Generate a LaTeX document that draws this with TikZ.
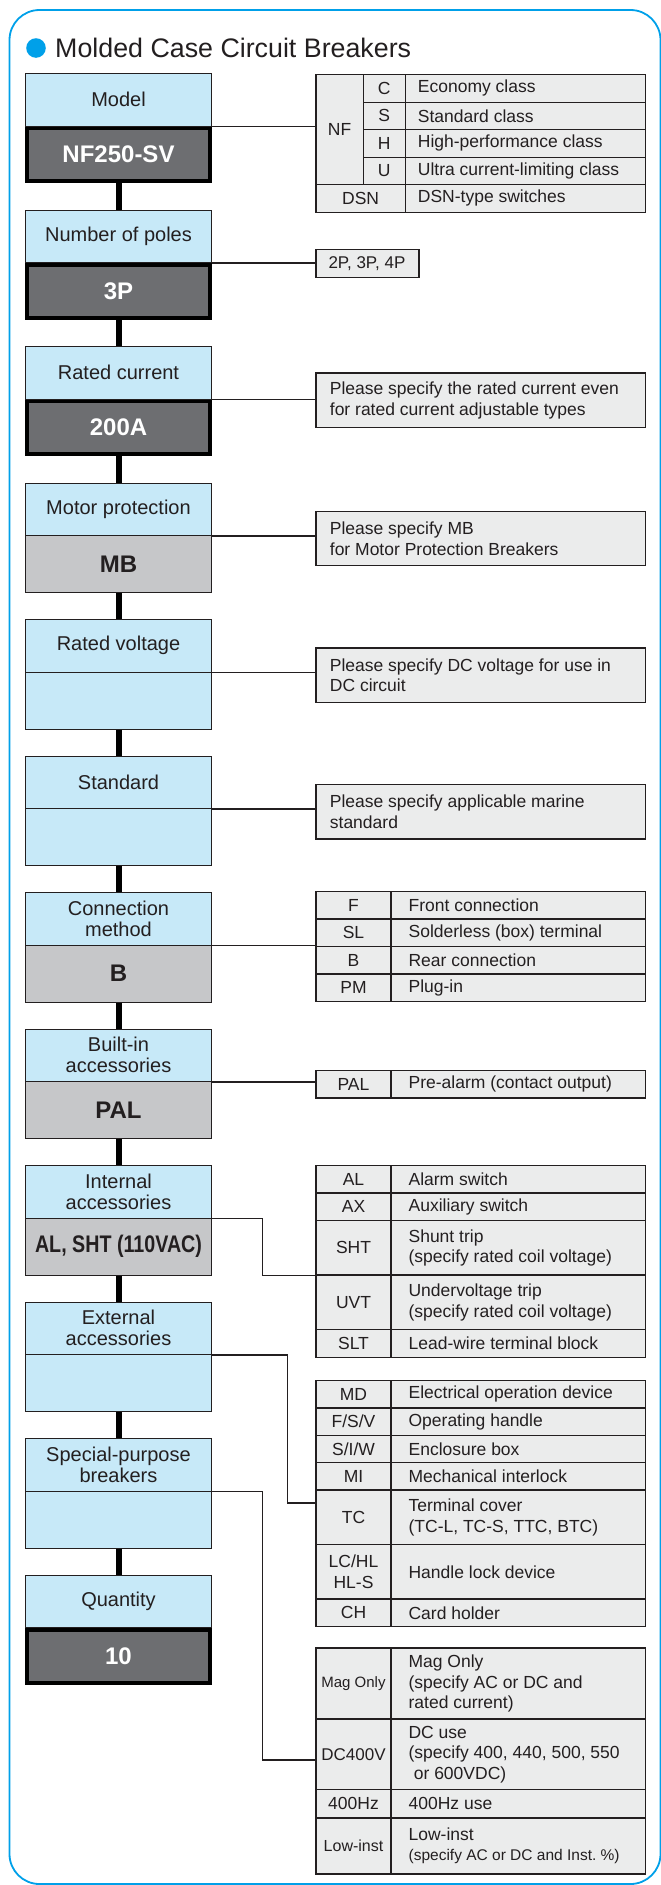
\documentclass[tikz,border=0pt]{standalone}
\usepackage{fontspec}
\usepackage{graphicx}
\setmainfont{Liberation Sans}
\definecolor{cyanc}{HTML}{00A0E9}
\definecolor{lblue}{HTML}{C7E9F8}
\definecolor{dgray}{HTML}{6D6E71}
\definecolor{mgray}{HTML}{C6C7C9}
\definecolor{tgray}{HTML}{EBECEC}
\definecolor{linec}{HTML}{231F20}
\definecolor{txt}{HTML}{231F20}
\tikzset{
 lbl/.style={draw=linec, line width=1, fill=lblue, minimum width=186.3, minimum height=52.5, inner sep=0, align=center, font=\fontsize{20}{21}\selectfont, text=txt},
 vdark/.style={draw=black, line width=4, fill=dgray, minimum width=182.3, minimum height=53, inner sep=0, font=\fontsize{24}{26}\selectfont\bfseries, text=white},
 vgray/.style={draw=linec, line width=1, fill=mgray, minimum width=186.3, minimum height=57, inner sep=0, font=\fontsize{24}{26}\selectfont\bfseries, text=txt},
 vblue/.style={draw=linec, line width=1, fill=lblue, minimum width=186.3, minimum height=57, inner sep=0},
 thickc/.style={line width=6, draw=black},
 conn/.style={line width=1.3, draw=linec},
 cellst/.style={draw=linec, line width=1.3, fill=tgray, inner sep=0, font=\fontsize{17.5}{20.5}\selectfont, text=txt},
 celltext/.style={inner sep=0, font=\fontsize{17.5}{20.5}\selectfont, text=txt, align=left, anchor=west},
}
\newcommand\ccell[7][]{%
 \pgfmathsetmacro\cw{#5-#3}\pgfmathsetmacro\ch{#6-#4}%
 \node[cellst,anchor=north west,minimum width=\cw pt,minimum height=\ch pt,align=center,#1] (#2) at (#3,#4) {#7};}
\newcommand\dcell[7][18]{%
 \pgfmathsetmacro\cw{#5-#3}\pgfmathsetmacro\ch{#6-#4}%
 \node[cellst,anchor=north west,minimum width=\cw pt,minimum height=\ch pt] (#2) at (#3,#4) {};
 \node[celltext] (#2t) at ([xshift=#1 pt]#2.west) {#7};}
\begin{document}
\begin{tikzpicture}[x=1pt,y=-1pt]
\useasboundingbox (0,0) rectangle (661,1885);
\begin{scope}
\clip (0,0) rectangle (661,1885);
\draw[cyanc, line width=1.8, rounded corners=30] (9.5,10) rectangle (660.5,1884);
\end{scope}
% title
\fill[cyanc] (36,48) circle (9.8);
\node[anchor=base west, inner sep=0, font=\fontsize{26.8}{30}\selectfont, text=txt] (title) at (55,57.5) {Molded Case Circuit Breakers};

% stages
\node[vdark] (v0) at (118.5,154.5) {NF250-SV};
\node[lbl] (l0) at (118.5,99.75) {Model};
\node[vdark] (v1) at (118.5,291) {3P};
\node[lbl] (l1) at (118.5,236.25) {Number of poles};
\node[vdark] (v2) at (118.5,427.5) {200A};
\node[lbl] (l2) at (118.5,372.75) {Rated current};
\node[vgray] (v3) at (118.5,564) {MB};
\node[lbl] (l3) at (118.5,509.25) {Motor protection};
\node[vblue] (v4) at (118.5,700.5) {};
\node[lbl] (l4) at (118.5,645.75) {Rated voltage};
\node[vblue] (v5) at (118.5,837) {};
\node[lbl] (l5) at (118.5,782.25) {Standard};
\node[vgray] (v6) at (118.5,973.5) {B};
\node[lbl] (l6) at (118.5,918.75) {Connection\\method};
\node[vgray] (v7) at (118.5,1110) {PAL};
\node[lbl] (l7) at (118.5,1055.25) {Built-in\\accessories};
\node[vgray] (v8) at (118.5,1246.5) {\scalebox{0.82}[1]{AL, SHT (110VAC)}};
\node[lbl] (l8) at (118.5,1191.75) {Internal\\accessories};
\node[vblue] (v9) at (118.5,1383) {};
\node[lbl] (l9) at (118.5,1328.25) {External\\accessories};
\node[vblue] (v10) at (118.5,1519.5) {};
\node[lbl] (l10) at (118.5,1464.75) {Special-purpose\\breakers};
\node[vdark] (v11) at (118.5,1656) {10};
\node[lbl] (l11) at (118.5,1601.25) {Quantity};

\foreach \a/\b in {0/1,1/2,2/3,3/4,4/5,5/6,6/7,7/8,8/9,9/10,10/11}
  \draw[thickc] (v\a.south) -- (l\b.north);

% Model table
\ccell{nf}{315.3}{74}{362.6}{184}{NF}
\ccell{mc}{362.6}{74}{404.7}{101.5}{C}
\dcell[13]{mcd}{404.7}{74}{645}{101.5}{Economy class}
\ccell{ms}{362.6}{101.5}{404.7}{129}{S}
\dcell[13]{msd}{404.7}{101.5}{645}{129}{Standard class}
\ccell{mh}{362.6}{129}{404.7}{156.5}{H}
\dcell[13]{mhd}{404.7}{129}{645}{156.5}{High-performance class}
\ccell{mu}{362.6}{156.5}{404.7}{184}{U}
\dcell[13]{mud}{404.7}{156.5}{645}{184}{Ultra current-limiting class}
\ccell{dsn}{315.3}{184}{404.7}{211.5}{DSN}
\dcell[13]{dsnd}{404.7}{184}{645}{211.5}{DSN-type switches}
\draw[conn] (l0.south east) -- (l0.south east -| nf.west);

% poles
\dcell[13]{p2}{315.3}{249}{418.2}{276.7}{\fontsize{17}{20}\selectfont 2P, 3P, 4P}
\draw[conn] (l1.south east) -- (l1.south east -| p2.west);

% notes
\dcell[14.4]{nrc}{315.3}{372.3}{645}{427}{Please specify the rated current even\\for rated current adjustable types}
\draw[conn] (l2.south east) -- (l2.south east -| nrc.west);
\dcell[14.4]{nmp}{315.3}{510.7}{645}{565}{Please specify MB\\for Motor Protection Breakers}
\draw[conn] (l3.south east) -- (l3.south east -| nmp.west);
\dcell[14.4]{nrv}{315.3}{647.3}{645}{701.7}{Please specify DC voltage for use in\\DC circuit}
\draw[conn] (l4.south east) -- (l4.south east -| nrv.west);
\dcell[14.4]{nst}{315.3}{784}{645}{838.3}{Please specify applicable marine\\standard}
\draw[conn] (l5.south east) -- (l5.south east -| nst.west);

% connection method
\ccell{cf}{315.3}{891}{390.4}{918.4}{F}
\dcell{cfd}{390.4}{891}{645}{918.4}{Front connection}
\ccell{csl}{315.3}{918.4}{390.4}{945.8}{SL}
\dcell{csld}{390.4}{918.4}{645}{945.8}{Solderless (box) terminal}
\ccell{cb}{315.3}{945.8}{390.4}{973.2}{B}
\dcell{cbd}{390.4}{945.8}{645}{973.2}{Rear connection}
\ccell{cpm}{315.3}{973.2}{390.4}{1000.6}{PM}
\dcell{cpmd}{390.4}{973.2}{645}{1000.6}{Plug-in}
\draw[conn] (l6.south east) -- (l6.south east -| cb.west);

% built-in
\ccell{pal}{315.3}{1070}{390.4}{1097.3}{PAL}
\dcell{pald}{390.4}{1070}{645}{1097.3}{Pre-alarm (contact output)}
\draw[conn] (l7.south east) -- (l7.south east -| pal.west);

% internal
\ccell{al}{315.3}{1164.7}{390.4}{1192.3}{AL}
\dcell{ald}{390.4}{1164.7}{645}{1192.3}{Alarm switch}
\ccell{ax}{315.3}{1192.3}{390.4}{1220}{AX}
\dcell{axd}{390.4}{1192.3}{645}{1220}{Auxiliary switch}
\ccell{sht}{315.3}{1220}{390.4}{1274.3}{SHT}
\dcell{shtd}{390.4}{1220}{645}{1274.3}{Shunt trip\\(specify rated coil voltage)}
\ccell{uvt}{315.3}{1274.3}{390.4}{1329}{UVT}
\dcell{uvtd}{390.4}{1274.3}{645}{1329}{Undervoltage trip\\(specify rated coil voltage)}
\ccell{slt}{315.3}{1329}{390.4}{1356.7}{SLT}
\dcell{sltd}{390.4}{1329}{645}{1356.7}{Lead-wire terminal block}
\coordinate (ja) at (262.6,0);
\draw[conn] (l8.south east) -| (ja |- sht.south west) -- (sht.south west);

% external
\ccell{md}{315.3}{1379.7}{390.4}{1407.3}{MD}
\dcell{mdd}{390.4}{1379.7}{645}{1407.3}{Electrical operation device}
\ccell{fsv}{315.3}{1407.3}{390.4}{1434.7}{F/S/V}
\dcell{fsvd}{390.4}{1407.3}{645}{1434.7}{Operating handle}
\ccell{siw}{315.3}{1434.7}{390.4}{1462}{S/I/W}
\dcell{siwd}{390.4}{1434.7}{645}{1462}{Enclosure box}
\ccell{mi}{315.3}{1462}{390.4}{1489.3}{MI}
\dcell{mid}{390.4}{1462}{645}{1489.3}{Mechanical interlock}
\ccell{tc}{315.3}{1489.3}{390.4}{1544}{TC}
\dcell{tcd}{390.4}{1489.3}{645}{1544}{Terminal cover\\(TC-L, TC-S, TTC, BTC)}
\ccell{lc}{315.3}{1544}{390.4}{1598.3}{LC/HL\\HL-S}
\dcell{lcd}{390.4}{1544}{645}{1598.3}{Handle lock device}
\ccell{ch}{315.3}{1598.3}{390.4}{1626}{CH}
\dcell{chd}{390.4}{1598.3}{645}{1626}{Card holder}
\coordinate (jb) at (287.5,1503);
\draw[conn] (l9.south east) -| (jb) -- (jb -| tc.west);

% special
\ccell[font=\fontsize{15}{18}\selectfont]{mag}{315.3}{1647.3}{390.4}{1718.3}{Mag Only}
\dcell{magd}{390.4}{1647.3}{645}{1718.3}{Mag Only\\(specify AC or DC and\\rated current)}
\ccell[font=\fontsize{17}{20}\selectfont]{dcv}{315.3}{1718.3}{390.4}{1789}{DC400V}
\dcell{dcvd}{390.4}{1718.3}{645}{1789}{DC use\\(specify 400, 440, 500, 550\\\hspace*{0.3em}or 600VDC)}
\ccell{hz}{315.3}{1789}{390.4}{1817.3}{400Hz}
\dcell{hzd}{390.4}{1789}{645}{1817.3}{400Hz use}
\ccell[font=\fontsize{16}{19}\selectfont]{li}{315.3}{1817.3}{390.4}{1873.3}{Low-inst}
\dcell{lid}{390.4}{1817.3}{645}{1873.3}{Low-inst\\{\fontsize{15.5}{19.3}\selectfont(specify AC or DC and Inst.~\%)}}
\coordinate (jc) at (262.6,1760);
\draw[conn] (l10.south east) -| (jc) -- (jc -| dcv.west);
\end{tikzpicture}
\end{document}
